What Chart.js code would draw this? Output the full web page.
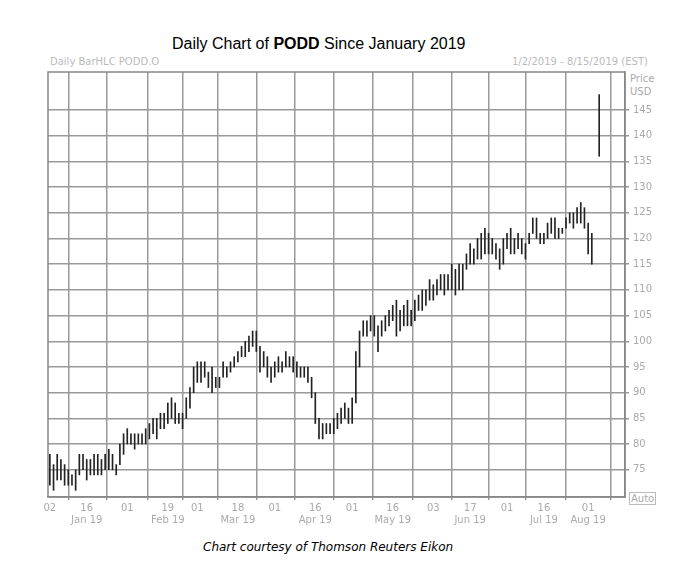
<!DOCTYPE html>
<html>
<head>
<meta charset="utf-8">
<script src="https://cdn.jsdelivr.net/npm/chart.js@4.4.0/dist/chart.umd.min.js"></script>
<style>
  body { margin: 0; background: #fff; font-family: "DejaVu Sans", Verdana, sans-serif; }
  #wrap { position: relative; width: 674px; height: 576px; }
  #chart { position: absolute; left: 0; top: 0; }
  .t { position: absolute; white-space: nowrap; }
</style>
</head>
<body>
<div id="wrap">
  <div class="t" style="left:172px;top:35px;font-size:16px;color:#000;font-family:'Liberation Sans',Arial,sans-serif;">Daily Chart of <b>PODD</b> Since January 2019</div>
  <div class="t" style="left:50px;top:56px;font-size:10px;color:#bbb;">Daily BarHLC PODD.O</div>
  <div class="t" style="left:512px;top:56px;font-size:10px;color:#bbb;">1/2/2019 - 8/15/2019 (EST)</div>
  <div class="t" style="left:630px;top:72px;font-size:10px;color:#aaa;line-height:13px;">Price<br>USD</div>
  <div class="t" style="left:629px;top:492px;font-size:10px;color:#aaa;border:1px solid #bbb;padding:0 1px;">Auto</div>
  <div class="t" style="left:203px;top:540px;font-size:12px;font-style:italic;color:#000;">Chart courtesy of Thomson Reuters Eikon</div>
  <canvas id="chart" width="674" height="530"></canvas>
</div>
<script>
// trading-day index of each bar, high and low (USD)
const highs = [
  78,76,78,77,76,75,74,75,78,78,77,77,78,78,77,78,79,78,76,80,82,
  83,82,82,82,82,83,84,85,85,86,86,88,89,88,86,86,89,91,95,
  96,96,96,94,95,93,93,96,95,96,97,98,99,100,101,102,102,99,98,97,95,
  96,97,96,98,97,97,96,95,95,95,93,90,85,84,84,84,85,86,87,88,87,
  89,98,102,104,104,105,105,103,104,105,106,107,108,106,107,108,106,108,109,110,110,112,
  111,112,113,113,113,115,114,115,115,117,119,118,120,121,122,121,120,119,118,120,
  121,122,120,121,120,119,121,124,124,121,121,123,124,124,122,122,124,125,125,126,127,126,
  123,121,148
];
const lows = [
  72,71,73,73,72,72,72,71,74,75,73,74,74,74,74,75,75,75,74,76,78,
  80,80,79,80,80,80,81,82,81,83,83,84,85,84,84,83,85,87,90,
  92,92,93,91,90,91,91,93,93,94,95,96,97,97,98,99,98,94,95,93,92,
  93,94,94,95,95,94,93,93,93,92,89,84,81,81,82,82,82,83,84,85,84,
  84,88,95,101,101,102,101,98,101,102,103,104,101,102,103,103,103,104,106,106,107,108,
  108,109,110,109,110,110,109,110,110,114,115,115,116,116,117,117,117,116,114,115,
  118,117,117,118,117,116,119,121,120,119,119,120,121,120,120,121,122,123,122,123,123,122,
  117,115,136
];
const barIndex = highs.map((h, i) => i < highs.length - 1 ? i : 149);

const tickIndex = [0, 10, 21, 32, 40, 51, 61, 72, 82, 93, 104, 114, 124, 134, 146];
const tickDay = ['02','16','01','19','01','18','01','16','01','16','03','17','01','16','01'];
const tickMonth = ['', 'Jan 19', '', 'Feb 19', '', 'Mar 19', '', 'Apr 19', '', 'May 19', '', 'Jun 19', '', 'Jul 19', 'Aug 19'];
const priceTicks = [75,80,85,90,95,100,105,110,115,120,125,130,135,140,145];

const bars = barIndex.map((x, i) => ({ x: x, y: [lows[i], highs[i]] }));

new Chart(document.getElementById('chart'), {
  type: 'bar',
  data: {
    datasets: [{
      data: bars,
      backgroundColor: '#222',
      borderWidth: 0,
      barThickness: 1,
      grouped: false
    }]
  },
  options: {
    responsive: false,
    animation: false,
    devicePixelRatio: 1,
    layout: { padding: { left: 48, top: 72, right: 0, bottom: 0 } },
    plugins: { legend: { display: false }, tooltip: { enabled: false } },
    scales: {
      x: {
        type: 'linear', min: -0.5, max: 156, offset: false,
        afterBuildTicks: ax => { ax.ticks = tickIndex.map(v => ({ value: v })); },
        afterFit: ax => { ax.height = 33; },
        ticks: {
          autoSkip: false, maxRotation: 0, color: '#aaa',
          font: { size: 10, family: 'DejaVu Sans' }, padding: 2,
          callback: v => { const k = tickIndex.indexOf(v); return tickMonth[k] ? [tickDay[k], tickMonth[k]] : tickDay[k]; }
        },
        grid: { color: '#999', lineWidth: 1.5, drawTicks: true, tickLength: 3 },
        border: { color: '#888', width: 1.5 }
      },
      y: {
        position: 'right', min: 69.7, max: 152.4,
        afterBuildTicks: ax => { ax.ticks = priceTicks.map(v => ({ value: v })); },
        afterFit: ax => { ax.width = 49; },
        ticks: { color: '#aaa', font: { size: 10, family: 'DejaVu Sans' }, padding: 4 },
        grid: { color: '#999', lineWidth: 1.5, tickLength: 4 },
        border: { color: '#888', width: 1.5 }
      }
    }
  },
  plugins: [{
    id: 'frame',
    afterDraw: c => {
      const a = c.chartArea, g = c.ctx;
      g.save(); g.strokeStyle = '#888'; g.lineWidth = 1.5;
      g.strokeRect(a.left, a.top, a.right - a.left, a.bottom - a.top);
      g.restore();
    }
  }]
});
</script>
</body>
</html>
